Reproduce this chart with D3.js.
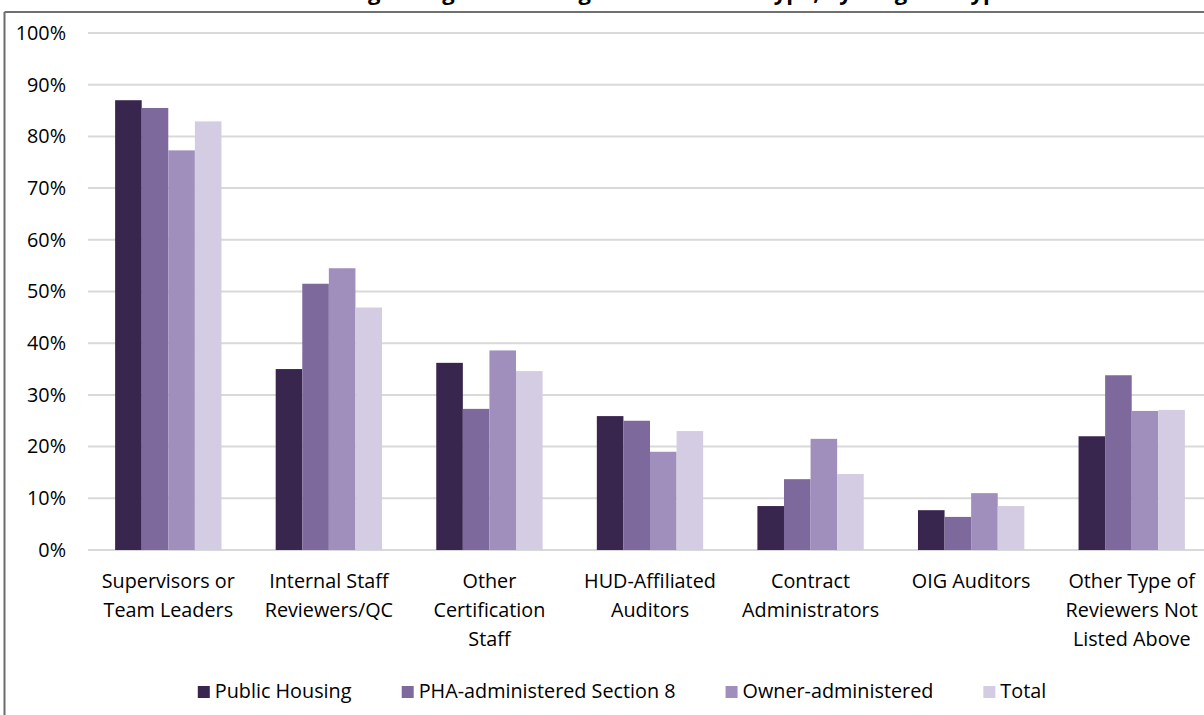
<!DOCTYPE html>
<meta charset="utf-8">
<html>
  <head>
    <title>reviewer types</title>
    <script src="https://d3js.org/d3.v7.min.js"></script>
    <style>
      body { margin: 0; background: #fff; }
      text { font-family: "Open Sans", Lato, sans-serif; fill: #000; }
    </style>
  </head>
  <body>
    <div id="chart"></div>
    <script type="text/javascript">
        /* data */
        var categories = [
            ["Supervisors or", "Team Leaders"],
            ["Internal Staff", "Reviewers/QC"],
            ["Other", "Certification", "Staff"],
            ["HUD-Affiliated", "Auditors"],
            ["Contract", "Administrators"],
            ["OIG Auditors"],
            ["Other Type of", "Reviewers Not", "Listed Above"]
        ];
        var series = ["Public Housing", "PHA-administered Section 8", "Owner-administered", "Total"];
        var public_housing = [87.0, 35.0, 36.2, 25.9, 8.5, 7.7, 22.0];
        var pha_section8   = [85.5, 51.5, 27.3, 25.0, 13.7, 6.4, 33.8];
        var owner_admin    = [77.3, 54.5, 38.6, 19.0, 21.5, 11.0, 26.9];
        var total          = [82.9, 46.9, 34.6, 23.0, 14.7, 8.5, 27.1];
        var y_ticks = [0, 10, 20, 30, 40, 50, 60, 70, 80, 90, 100];
        var title_text = "Percentage of Agencies Using Each Reviewer Type, by Program Type";

        var colors = ["#38264f", "#7e699d", "#a08fbc", "#d3cce2"];
        var all_values = [public_housing, pha_section8, owner_admin, total];

        /* layout */
        var total_width = 1204, total_height = 715;
        var plot = {left: 88, right: 1212, top: 33, bottom: 550};
        var font_size = 19.8;

        var svg = d3.select("#chart").append("svg")
            .attr("width", total_width)
            .attr("height", total_height);

        /* title, mostly above the visible area as in the source */
        svg.append("text")
            .attr("x", 1010)
            .attr("y", 0)
            .attr("text-anchor", "end")
            .attr("font-weight", "bold")
            .attr("font-size", 22)
            .text(title_text);

        /* frame */
        svg.append("line").attr("x1", 4.5).attr("x2", 1204).attr("y1", 12).attr("y2", 12)
            .attr("stroke", "#404040").attr("stroke-width", 1.5);
        svg.append("line").attr("x1", 4.5).attr("x2", 4.5).attr("y1", 12).attr("y2", 715)
            .attr("stroke", "#6b6b6b").attr("stroke-width", 2);

        /* scales */
        var x_scale = d3.scaleBand()
            .domain(d3.range(categories.length))
            .range([plot.left, plot.right]);
        var x_inner = d3.scaleBand()
            .domain(d3.range(series.length))
            .range([0, x_scale.bandwidth()])
            .paddingInner(0)
            .paddingOuter(1.02);
        var y_scale = d3.scaleLinear()
            .domain([0, 100])
            .range([plot.bottom, plot.top]);

        /* grid lines */
        svg.append("g").selectAll("line")
            .data(y_ticks)
            .enter().append("line")
            .attr("x1", plot.left)
            .attr("x2", total_width)
            .attr("y1", function(d){ return y_scale(d); })
            .attr("y2", function(d){ return y_scale(d); })
            .attr("stroke", "#d9d9d9")
            .attr("stroke-width", 2);

        /* y axis labels */
        var y_axis = d3.axisLeft(y_scale)
            .tickValues(y_ticks)
            .tickFormat(function(d){ return d + "%"; })
            .tickSize(0)
            .tickPadding(22);
        var y_g = svg.append("g")
            .attr("transform", "translate(" + plot.left + ",0)")
            .call(y_axis);
        y_g.select(".domain").remove();
        y_g.selectAll("text")
            .attr("font-size", font_size)
            .attr("font-family", "'Open Sans', Lato, sans-serif")
            .attr("fill", "#000");

        /* bars */
        var bar_groups = svg.append("g").selectAll("g")
            .data(all_values)
            .enter().append("g")
            .attr("fill", function(d, i){ return colors[i]; });
        bar_groups.each(function(vals, si){
            d3.select(this).selectAll("rect")
                .data(vals)
                .enter().append("rect")
                .attr("x", function(d, ci){ return x_scale(ci) + x_inner(si); })
                .attr("y", function(d){ return y_scale(d); })
                .attr("width", x_inner.bandwidth())
                .attr("height", function(d){ return y_scale(0) - y_scale(d); });
        });

        /* category labels */
        var cat_labels = svg.append("g").selectAll("text")
            .data(categories)
            .enter().append("text")
            .attr("text-anchor", "middle")
            .attr("font-size", font_size)
            .attr("x", function(d, i){ return x_scale(i) + x_scale.bandwidth() / 2; })
            .attr("y", 588);
        cat_labels.selectAll("tspan")
            .data(function(d){ return d; })
            .enter().append("tspan")
            .attr("x", function(){ return d3.select(this.parentNode).attr("x"); })
            .attr("dy", function(d, i){ return i == 0 ? 0 : 29; })
            .text(function(d){ return d; });

        /* legend: laid out from measured text widths, centred */
        var legend = svg.append("g");
        var items = legend.selectAll("g")
            .data(series)
            .enter().append("g");
        items.append("rect")
            .attr("width", 12)
            .attr("height", 12)
            .attr("fill", function(d, i){ return colors[i]; });
        items.append("text")
            .attr("x", 17)
            .attr("y", 12)
            .attr("font-size", font_size)
            .text(function(d){ return d; });
        var pos = 0, gap = 50;
        items.each(function(){
            var w = this.getBBox().width;
            d3.select(this).attr("transform", "translate(" + pos + ",0)");
            pos += w + gap;
        });
        pos -= gap;
        legend.attr("transform", "translate(" + (622 - pos / 2) + ",686)");
    </script>
  </body>
</html>
